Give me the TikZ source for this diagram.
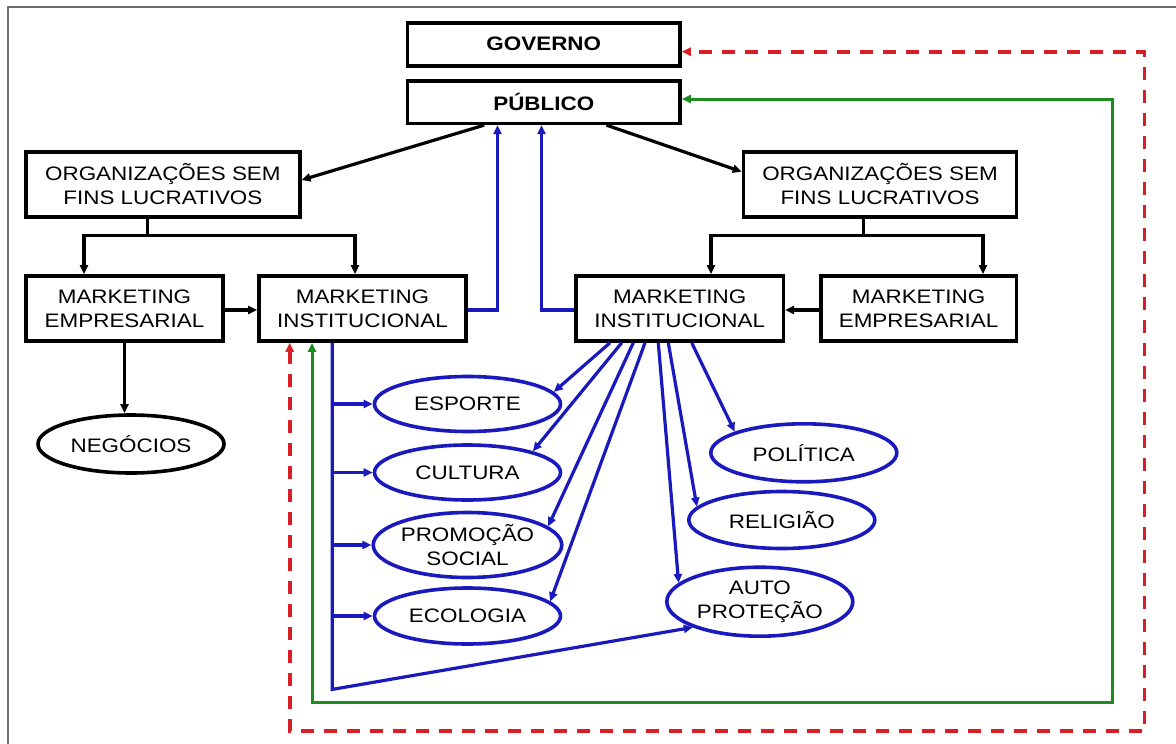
\documentclass[tikz,border=0pt]{standalone}
\usepackage{fontspec}
\setmainfont{Liberation Sans}[FakeStretch=1.15]
\usetikzlibrary{arrows.meta,calc,shapes.geometric}
\definecolor{lineblue}{RGB}{25,25,190}
\definecolor{linegreen}{RGB}{30,140,30}
\definecolor{linered}{RGB}{218,30,38}
\definecolor{framegray}{RGB}{110,110,110}
\begin{document}
\begin{tikzpicture}[x=1pt,y=-1pt,
  font=\fontsize{19.5}{24}\selectfont,
  box/.style={draw=black,line width=3.6pt,rectangle,minimum height=65pt,inner sep=0pt,align=center},
  oval/.style={draw=lineblue,line width=3.6pt,ellipse,minimum width=186pt,inner sep=0pt,align=center},
  blackoval/.style={oval,draw=black},
  arr/.style={-{Triangle[length=9pt,width=8pt]}},
  twoarr/.style={{Triangle[length=9pt,width=8pt]}-{Triangle[length=9pt,width=8pt]}},
  conn/.style={arr,draw=black,line width=3.2pt},
  bconn/.style={draw=lineblue,line width=3.2pt},
  gconn/.style={twoarr,draw=linegreen,line width=3pt},
  rconn/.style={twoarr,draw=linered,line width=3.6pt,dash pattern=on 13pt off 10pt},
]
\useasboundingbox (0,0) rectangle (1176,744);
\fill[white] (0,0) rectangle (1176,744);
% outer frame
\draw[framegray,line width=1.8pt] (7.7,744) -- (7.7,6.7) -- (1176,6.7);

% top boxes
\node[box,font=\bfseries\fontsize{19.5}{24}\selectfont,minimum width=272.4pt,minimum height=43pt] (gov) at (543.8,44.2) {GOVERNO};
\node[box,font=\bfseries\fontsize{19.5}{24}\selectfont,minimum width=272.4pt,minimum height=42.3pt] (pub) at (543.8,102.2) {PÚBLICO};

% organisations
\node[box,minimum width=273.7pt] (orgL) at (162.9,184.2) {ORGANIZAÇÕES SEM\\FINS LUCRATIVOS};
\node[box,minimum width=273pt] (orgR) at (880,184.2) {ORGANIZAÇÕES SEM\\FINS LUCRATIVOS};

% marketing boxes
\node[box,minimum width=197pt] (meL) at (124.5,308.5) {MARKETING\\EMPRESARIAL};
\node[box,minimum width=207pt] (miL) at (362.5,308.5) {MARKETING\\INSTITUCIONAL};
\node[box,minimum width=207.4pt] (miR) at (679.7,308.5) {MARKETING\\INSTITUCIONAL};
\node[box,minimum width=195.8pt] (meR) at (918.6,308.5) {MARKETING\\EMPRESARIAL};

% ovals
\node[blackoval,minimum height=58pt] (neg) at (131,444) {NEGÓCIOS};
\node[oval,minimum height=55pt] (esp) at (467.5,404) {ESPORTE};
\node[oval,minimum height=55pt] (cul) at (467.5,472.5) {CULTURA};
\node[oval,minimum height=65pt] (pro) at (467.5,545) {PROMOÇÃO\\SOCIAL};
\node[oval,minimum height=56pt] (eco) at (467.5,616) {ECOLOGIA};
\node[oval,minimum height=58pt] (pol) at (803.8,452.8) {POLÍTICA};
\node[oval,minimum height=57pt] (rel) at (781.8,520) {RELIGIÃO};
\node[oval,minimum height=69pt] (aut) at (759.8,601.7) {AUTO\\PROTEÇÃO};

% public to organisations
\draw[conn] ($(pub.south west)+(78.4,0)$) -- ($(orgL.east)+(0,-4.2)$);
\draw[conn] ($(pub.south east)+(-75.3,0)$) -- ($(orgR.west)+(0,-12.5)$);

% organisations to marketing
\draw[conn] ($(orgL.south)+(-15.6,0)$) -- ++(0,17) -| ($(meL.north)+(-40.5,0)$);
\draw[conn] ($(orgL.south)+(-15.6,0)$) -- ++(0,17) -| ($(miL.north)+(-7.5,0)$);
\draw[conn] ($(orgR.south)+(-16.7,0)$) -- ++(0,17) -| ($(miR.north)+(31.3,0)$);
\draw[conn] ($(orgR.south)+(-16.7,0)$) -- ++(0,17) -| ($(meR.north)+(64.4,0)$);
\draw[conn] ($(meL.east)+(0,1.5)$) -- ($(miL.west)+(0,1.5)$);
\draw[conn] ($(meR.west)+(0,1.5)$) -- ($(miR.east)+(0,1.5)$);
\draw[conn] (meL.south) -- (meL.south |- neg.north);

% institutional marketing back to the public
\draw[bconn,arr] ($(miL.east)+(0,1.5)$) -| ($(pub.south)+(-46.3,0)$);
\draw[bconn,arr] ($(miR.west)+(0,1.5)$) -| ($(pub.south)+(-2.3,0)$);

% left bus to the areas
\coordinate (bus) at ($(miL.south)+(-30.3,0)$);
\draw[bconn,arr] (bus) -- ++(0,346.6) -- (aut.south west);
\draw[bconn,arr] (bus |- esp.west) -- (esp.west);
\draw[bconn,arr] (bus |- cul.west) -- (cul.west);
\draw[bconn,arr] (bus |- pro.west) -- (pro.west);
\draw[bconn,arr] (bus |- eco.west) -- (eco.west);

% fan from the right institutional box
\draw[bconn,arr] ($(miR.south)+(-69.7,0)$) -- (esp.8);
\draw[bconn,arr] ($(miR.south)+(-58,0)$) -- (cul.18);
\draw[bconn,arr] ($(miR.south)+(-46.4,0)$) -- (pro.13);
\draw[bconn,arr] ($(miR.south)+(-34.7,0)$) -- (eco.10);
\draw[bconn,arr] ($(miR.south)+(-21.4,0)$) -- (aut.167);
\draw[bconn,arr] ($(miR.south)+(-11.4,0)$) -- (rel.171);
\draw[bconn,arr] ($(miR.south)+(12,0)$) -- (pol.163);

% feedback loops
\draw[gconn] ($(miL.south)+(-50.5,0)$) -- ++(0,359.7) -- ++(800,0) |- ($(pub.east)+(0,-3.2)$);
\draw[rconn] ($(miL.south)+(-72.8,0)$) -- ++(0,388.3) -- ++(854.7,0) |- ($(gov.east)+(0,7.5)$);
\end{tikzpicture}
\end{document}
